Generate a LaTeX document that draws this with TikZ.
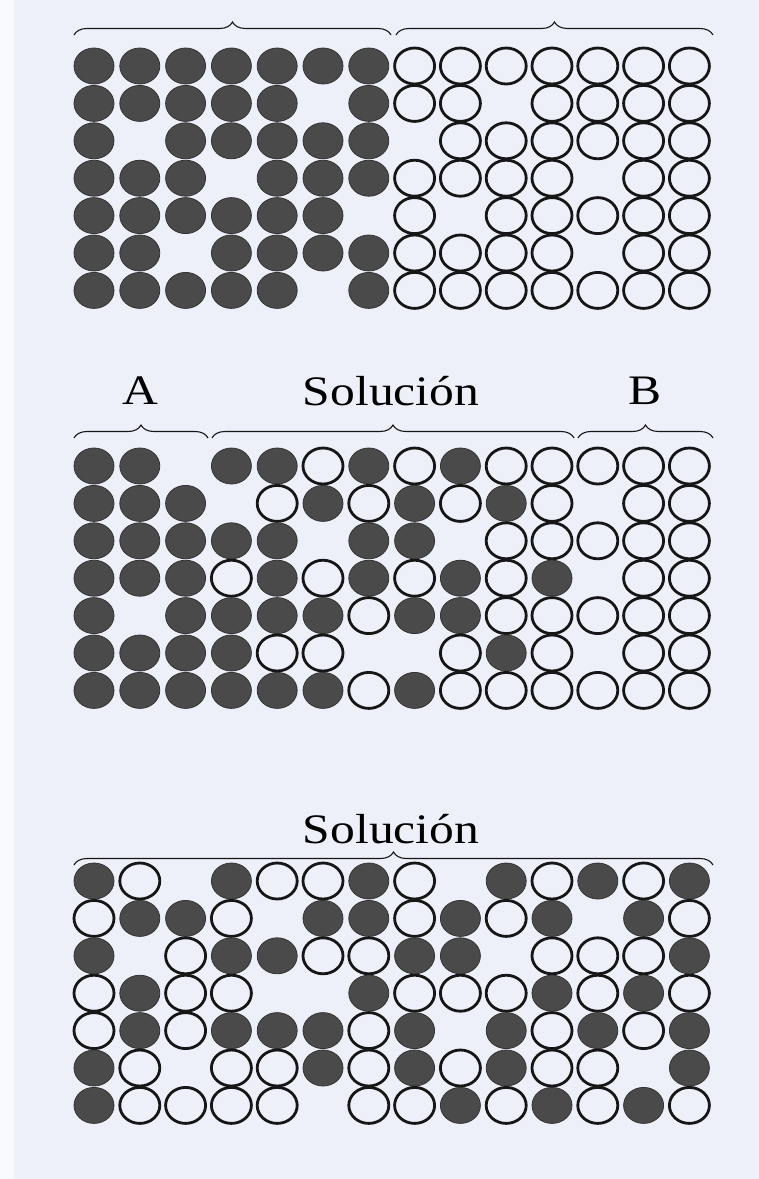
\documentclass[tikz,border=0pt]{standalone}
\usepackage{fontspec}
\setmainfont{Liberation Serif}
\usetikzlibrary{shapes.geometric,decorations.pathreplacing}
\definecolor{papel}{HTML}{EDF0F8}
\definecolor{tinta}{HTML}{161616}
\definecolor{lleno}{HTML}{4A4A4A}

% una rejilla de 14 columnas: F = llena, O = vacia, . = hueco
\newcommand{\rejilla}[3]{%
  \foreach \fila [count=\r] in {#3} {
    \foreach \s [count=\c] in \fila {
      \if F\s
        \node[llena] (#1-\r-\c) at ({94+45.8*(\c-1)},{#2+37.4*(\r-1)}) {};
      \fi
      \if O\s
        \node[vacia] (#1-\r-\c) at ({94+45.8*(\c-1)},{#2+37.4*(\r-1)}) {};
      \fi
    }
  }%
}
\newcommand{\ancho}[1]{\scalebox{1.18}[1]{#1}}

\begin{document}
\begin{tikzpicture}[x=1pt, y=-1pt,
    every node/.style={font=\fontsize{42}{48}\selectfont},
    ficha/.style={ellipse, inner sep=0pt, minimum width=40pt, minimum height=36pt},
    llena/.style={ficha, fill=lleno, draw=black!80, line width=0.8pt},
    vacia/.style={ficha, draw=tinta, line width=2.8pt},
    llave/.style={draw=tinta, line width=1.1pt, decorate,
      decoration={brace, amplitude=13pt}}]
  \fill[papel] (0,0) rectangle (759,1179);
  \fill[papel!40!white] (0,0) rectangle (14,1179);

  % antes de mezclar
  \draw[llave] (74,35) -- (391,35);
  \draw[llave] (396,35) -- (713,35);
  \rejilla{p}{66}{
    {F,F,F,F,F,F,F,O,O,O,O,O,O,O},
    {F,F,F,F,F,.,F,O,O,.,O,O,O,O},
    {F,.,F,F,F,F,F,.,O,O,O,O,O,O},
    {F,F,F,.,F,F,F,O,O,O,O,.,O,O},
    {F,F,F,F,F,F,.,O,.,O,O,O,O,O},
    {F,F,.,F,F,F,F,O,O,O,O,.,O,O},
    {F,F,F,F,F,.,F,O,O,O,O,O,O,O}}

  % difusion parcial
  \node (a) at (140,391) {\ancho{A}};
  \node (sol) at (391,391) {\ancho{Solución}};
  \node (b) at (645,391) {\ancho{B}};
  \draw[llave] (74,438) -- (208,438);
  \draw[llave] (212,438) -- (574,438);
  \draw[llave] (578,438) -- (713,438);
  \rejilla{q}{466}{
    {F,F,.,F,F,O,F,O,F,O,O,O,O,O},
    {F,F,F,.,O,F,O,F,O,F,O,.,O,O},
    {F,F,F,F,F,.,F,F,.,O,O,O,O,O},
    {F,F,F,O,F,O,F,O,F,O,F,.,O,O},
    {F,.,F,F,F,F,O,F,F,O,O,O,O,O},
    {F,F,F,F,O,O,.,.,O,F,O,.,O,O},
    {F,F,F,F,F,F,O,F,O,O,O,O,O,O}}

  % equilibrio
  \node (sol2) at (391,829) {\ancho{Solución}};
  \draw[llave] (74,865) -- (713,865);
  \rejilla{r}{881}{
    {F,O,.,F,O,O,F,O,.,F,O,F,O,F},
    {O,F,F,O,.,F,F,O,F,O,F,.,F,O},
    {F,.,O,F,F,O,O,F,F,.,O,O,O,F},
    {O,F,O,O,.,.,F,O,O,O,F,O,F,O},
    {O,F,O,F,F,F,O,F,.,F,O,F,O,F},
    {F,O,.,O,O,F,O,F,O,F,O,O,.,F},
    {F,O,O,O,O,.,O,O,F,O,F,O,F,O}}
\end{tikzpicture}
\end{document}
